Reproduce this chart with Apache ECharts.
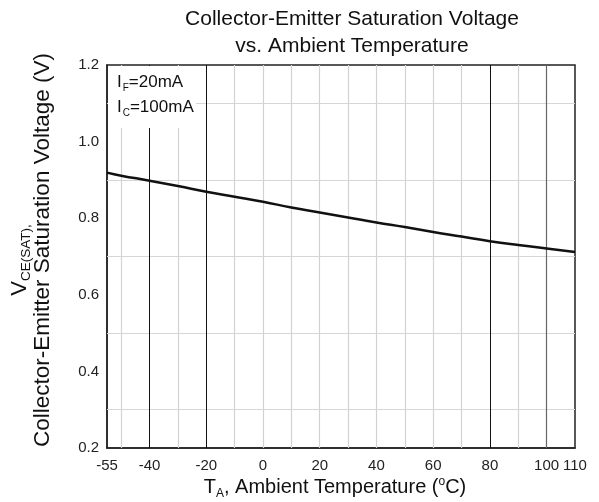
<!DOCTYPE html>
<html>
<head>
<meta charset="utf-8">
<script src="https://cdn.jsdelivr.net/npm/echarts@6/dist/echarts.min.js"></script>
<style>html,body{margin:0;padding:0;background:#fff}#c{width:599px;height:502px}</style>
</head>
<body>
<div id="c"></div>
<script>
// Data
const temps = [-55, -50, -40, -30, -20, -10, 0, 10, 20, 30, 40, 50, 60, 70, 80, 90, 100, 110];
const vceSat = [0.919, 0.911, 0.898, 0.884, 0.869, 0.856, 0.843, 0.828, 0.815, 0.802, 0.789, 0.777, 0.764, 0.752, 0.740, 0.730, 0.721, 0.712];
const xTickLabels = [-55, -40, -20, 0, 20, 40, 60, 80, 100, 110];
const yTickLabels = [0.2, 0.4, 0.6, 0.8, 1.0, 1.2];
const xGridLight = [-50, -30, -10, 0, 10, 20, 30, 40, 50, 60, 70, 90];
const xGridDark = [-40, -20, 80];
const xGridMid = [100];
const yGridLight = [0.3, 0.5, 0.7, 0.9, 1.1];

const FONT = 'Liberation Sans, Arial, sans-serif';
const chart = echarts.init(document.getElementById('c'));

const markData = [];
xGridLight.forEach(v => markData.push({xAxis: v, lineStyle: {color: '#d2d2d2', width: 1.2, type: 'solid'}}));
yGridLight.forEach(v => markData.push({yAxis: v, lineStyle: {color: '#d6d6d6', width: 1.2, type: 'solid'}}));
xGridDark.forEach(v => markData.push({xAxis: v, lineStyle: {color: '#111', width: 1, type: 'solid'}}));
xGridMid.forEach(v => markData.push({xAxis: v, lineStyle: {color: '#666', width: 1.2, type: 'solid'}}));

chart.setOption({
  animation: false,
  backgroundColor: '#fff',
  title: {
    text: 'Collector-Emitter Saturation Voltage\nvs. Ambient Temperature',
    left: 347, top: 1, textAlign: 'center',
    textStyle: {fontFamily: FONT, fontSize: 21, fontWeight: 'normal', color: '#111', lineHeight: 27}
  },
  grid: {left: 107, right: 24, top: 65, bottom: 54, show: true, borderColor: '#222', borderWidth: 1.5, backgroundColor: 'transparent'},
  xAxis: {
    type: 'value', min: -55, max: 110,
    axisLine: {show: true, onZero: false, lineStyle: {color: '#222', width: 1.5}},
    axisTick: {show: false},
    splitLine: {show: false},
    axisLabel: {customValues: xTickLabels, fontFamily: FONT, fontSize: 15, color: '#222', margin: 10}
  },
  yAxis: {
    type: 'value', min: 0.2, max: 1.2, interval: 0.2,
    axisLine: {show: true, onZero: false, lineStyle: {color: '#222', width: 1.5}},
    axisTick: {show: false},
    splitLine: {show: false},
    axisLabel: {customValues: yTickLabels, formatter: v => v.toFixed(1), fontFamily: FONT, fontSize: 15, color: '#222', margin: 8}
  },
  series: [{
    type: 'line',
    data: temps.map((t, i) => [t, vceSat[i]]),
    smooth: true,
    showSymbol: false,
    lineStyle: {color: '#111', width: 2.5},
    z: 5,
    markLine: {silent: true, symbol: 'none', label: {show: false}, data: markData, z: 1}
  }],
  graphic: [
    {type: 'rect', z: 10, shape: {x: 108, y: 66, width: 88, height: 62}, style: {fill: '#fff'}},
    {type: 'text', z: 11, x: 117, y: 72, style: {
      text: '{m|I}{s|F}{m|=20mA}',
      rich: {m: {fontSize: 17, fontFamily: FONT, fill: '#111'}, s: {fontSize: 10, fontFamily: FONT, fill: '#111', padding: [11, 0, 0, 1]}}
    }},
    {type: 'text', z: 11, x: 117, y: 97, style: {
      text: '{m|I}{s|C}{m|=100mA}',
      rich: {m: {fontSize: 17, fontFamily: FONT, fill: '#111'}, s: {fontSize: 10, fontFamily: FONT, fill: '#111', padding: [11, 0, 0, 1]}}
    }},
    {type: 'text', z: 11, x: 335, y: 487, style: {
      text: '{m|T}{s|A}{m|, Ambient Temperature (}{p|o}{m|C)}', align: 'center', verticalAlign: 'middle',
      rich: {m: {fontSize: 20, fontFamily: FONT, fill: '#111'}, s: {fontSize: 12, fontFamily: FONT, fill: '#111', padding: [13, 0, 0, 0]},
             p: {fontSize: 12, fontFamily: FONT, fill: '#111', padding: [0, 0, 11, 0]}}
    }},
    {type: 'text', z: 11, x: 43, y: 250, rotation: Math.PI / 2, style: {
      text: 'Collector-Emitter Saturation Voltage (V)', align: 'center', verticalAlign: 'middle',
      font: '22.5px ' + FONT, fill: '#111'
    }},
    {type: 'text', z: 11, x: 20, y: 260, rotation: Math.PI / 2, style: {
      text: '{m|V}{s|CE(SAT)}{s|,}', align: 'center', verticalAlign: 'middle',
      rich: {m: {fontSize: 22, fontFamily: FONT, fill: '#111'}, s: {fontSize: 13.5, fontFamily: FONT, fill: '#111', padding: [13, 0, 0, 0]}}
    }}
  ]
});
</script>
</body>
</html>
